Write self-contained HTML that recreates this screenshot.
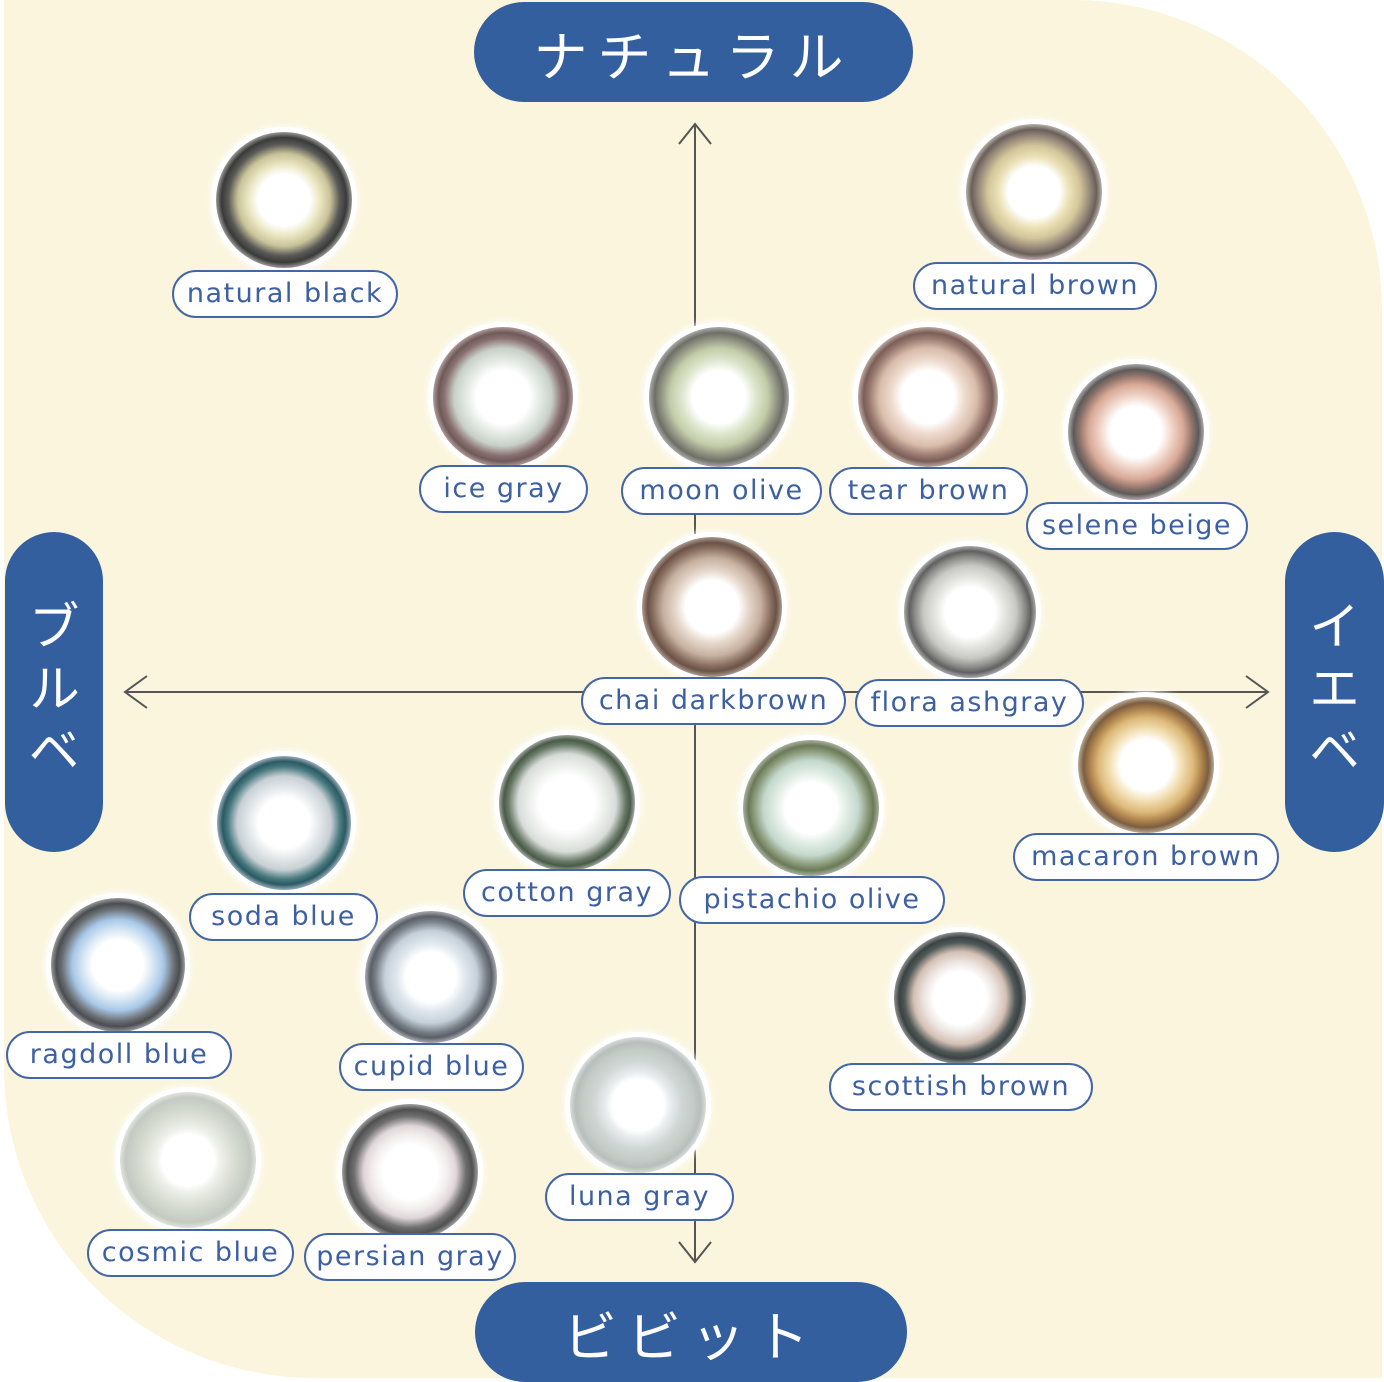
<!DOCTYPE html>
<html><head><meta charset="utf-8"><style>
body{margin:0;width:1384px;height:1382px;background:#fff;position:relative;overflow:hidden;font-family:"Liberation Sans","DejaVu Sans",sans-serif}
.bg{position:absolute;left:4px;top:0;width:1378px;height:1378px;background:#faf5dc;border-radius:0 310px 0 310px}
.pill{position:absolute;background:#335f9e;color:#fff;font-family:"Noto Sans CJK JP",sans-serif;display:flex;align-items:center;justify-content:center;border-radius:50px}
.h{font-size:54px;letter-spacing:10px}
.v{writing-mode:vertical-rl;font-size:52px;letter-spacing:10px}
.l{position:absolute;border-radius:50%;box-shadow:0 0 0 5px #fff,0 0 6px 7px rgba(255,255,255,.7)}
.t{position:absolute;box-sizing:border-box;border:2px solid #4466a6;background:#fff;border-radius:25px;color:#3d60a2;font-size:27px;letter-spacing:1.5px;text-align:center;line-height:44px;font-family:"DejaVu Sans","Liberation Sans",sans-serif}
</style></head><body>
<div class="bg"></div>
<svg width="1384" height="1382" style="position:absolute;left:0;top:0" fill="none" stroke="#555" stroke-width="2">
<line x1="695" y1="124" x2="695" y2="1262"/>
<polyline points="679,144 695,124 711,144"/>
<polyline points="679,1242 695,1262 711,1242"/>
<line x1="125" y1="692" x2="1268" y2="692"/>
<polyline points="147,676 125,692 147,708"/>
<polyline points="1246,676 1268,692 1246,708"/>
</svg>
<div class="pill h" style="left:474px;top:2px;width:439px;height:100px">ナチュラル</div>
<div class="pill h" style="left:475px;top:1282px;width:432px;height:100px">ビビット</div>
<div class="pill v" style="left:5px;top:532px;width:98px;height:320px">ブルベ</div>
<div class="pill v" style="left:1285px;top:532px;width:99px;height:320px">イエベ</div>

<div class="l" style="left:216px;top:132px;width:136px;height:136px;background:radial-gradient(circle closest-side,#fff 0 38%,#ece8c4 52%,#c9c39a 68%,#5a5a58 82%,#3a3a3a 92%,#9a9a98 100%)"></div>
<div class="t" style="left:172px;top:270px;width:226px;height:48px">natural black</div>

<div class="l" style="left:966px;top:124px;width:136px;height:136px;background:radial-gradient(circle closest-side,#fff 0 38%,#ece2b8 52%,#d2c59a 68%,#8f8276 84%,#6a5f5a 92%,#b8b0aa 100%)"></div>
<div class="t" style="left:913px;top:262px;width:244px;height:48px">natural brown</div>

<div class="l" style="left:433px;top:327px;width:140px;height:140px;background:radial-gradient(circle closest-side,#fff 0 38%,#e6ebe6 52%,#c8cfc8 70%,#8a7070 84%,#6e5a5a 92%,#b09a9a 100%)"></div>
<div class="t" style="left:419px;top:465px;width:169px;height:48px">ice gray</div>

<div class="l" style="left:649px;top:327px;width:140px;height:140px;background:radial-gradient(circle closest-side,#fff 0 38%,#dfe8d0 52%,#c3cca8 70%,#8d8f80 84%,#6d6f66 92%,#aaa 100%)"></div>
<div class="t" style="left:621px;top:467px;width:201px;height:48px">moon olive</div>

<div class="l" style="left:858px;top:327px;width:140px;height:140px;background:radial-gradient(circle closest-side,#fff 0 38%,#efdcd0 52%,#d8bcaa 70%,#9a7a70 84%,#7a5e58 92%,#bca8a0 100%)"></div>
<div class="t" style="left:829px;top:467px;width:199px;height:48px">tear brown</div>

<div class="l" style="left:1068px;top:364px;width:136px;height:136px;background:radial-gradient(circle closest-side,#fff 0 38%,#f1d8cc 52%,#d8a896 70%,#8a7068 84%,#5e5a5a 92%,#aaa 100%)"></div>
<div class="t" style="left:1026px;top:502px;width:222px;height:48px">selene beige</div>

<div class="l" style="left:642px;top:537px;width:140px;height:140px;background:radial-gradient(circle closest-side,#fff 0 38%,#e6d8cc 52%,#c6b0a0 70%,#8a7060 84%,#6a5246 92%,#ad9a90 100%)"></div>
<div class="t" style="left:581px;top:677px;width:265px;height:48px">chai darkbrown</div>

<div class="l" style="left:904px;top:546px;width:132px;height:132px;background:radial-gradient(circle closest-side,#fff 0 38%,#e6e6e2 52%,#c8c8c4 70%,#8a8a88 84%,#606060 92%,#aaa 100%)"></div>
<div class="t" style="left:855px;top:679px;width:229px;height:48px">flora ashgray</div>

<div class="l" style="left:1078px;top:697px;width:136px;height:136px;background:radial-gradient(circle closest-side,#fff 0 38%,#f4e2b8 52%,#dcb878 70%,#a87c48 84%,#7a5e44 92%,#b8a890 100%)"></div>
<div class="t" style="left:1013px;top:833px;width:266px;height:48px">macaron brown</div>

<div class="l" style="left:217px;top:756px;width:134px;height:134px;background:radial-gradient(circle closest-side,#fff 0 38%,#e6eaec 52%,#c8d0d4 70%,#4a7a80 84%,#2a5a62 92%,#9ab 100%)"></div>
<div class="t" style="left:189px;top:893px;width:189px;height:48px">soda blue</div>

<div class="l" style="left:499px;top:735px;width:136px;height:136px;background:radial-gradient(circle closest-side,#fff 0 40%,#eef0ee 55%,#d8dcd8 72%,#6a7a68 86%,#4a5a48 93%,#a0a8a0 100%)"></div>
<div class="t" style="left:463px;top:869px;width:208px;height:48px">cotton gray</div>

<div class="l" style="left:743px;top:740px;width:136px;height:136px;background:radial-gradient(circle closest-side,#fff 0 38%,#e2eee6 52%,#c4d8cc 70%,#8a9a7a 84%,#6a7a58 92%,#aab0a0 100%)"></div>
<div class="t" style="left:679px;top:876px;width:266px;height:48px">pistachio olive</div>

<div class="l" style="left:51px;top:898px;width:134px;height:134px;background:radial-gradient(circle 67px at 50% 50%,#fff 0 38%,#d8e8f4 52%,#a8c8e8 68%,#6a6e72 84%,#4a4e52 92%,#9a9a9a 100%)"></div>
<div class="t" style="left:6px;top:1031px;width:226px;height:48px">ragdoll blue</div>

<div class="l" style="left:365px;top:911px;width:132px;height:132px;background:radial-gradient(circle closest-side,#fff 0 38%,#e0e8ee 52%,#c4d0da 70%,#7a8088 84%,#5a6068 92%,#a8aab0 100%)"></div>
<div class="t" style="left:339px;top:1043px;width:185px;height:48px">cupid blue</div>

<div class="l" style="left:894px;top:932px;width:132px;height:132px;background:radial-gradient(circle closest-side,#fff 0 40%,#ece4e0 55%,#d4c0b4 70%,#505858 84%,#3a4242 92%,#909090 100%)"></div>
<div class="t" style="left:829px;top:1063px;width:264px;height:48px">scottish brown</div>

<div class="l" style="left:570px;top:1037px;width:136px;height:136px;background:radial-gradient(circle closest-side,#fff 0 38%,#e8ecee 48%,#d0d6d4 65%,#c4cac6 82%,#b8bebc 92%,#d8dcda 100%)"></div>
<div class="t" style="left:545px;top:1173px;width:189px;height:48px">luna gray</div>

<div class="l" style="left:120px;top:1092px;width:136px;height:136px;background:radial-gradient(circle closest-side,#fff 0 38%,#eef0ea 48%,#dce0d6 65%,#ccd2c8 82%,#c4cac2 92%,#e0e4dc 100%)"></div>
<div class="t" style="left:87px;top:1229px;width:207px;height:48px">cosmic blue</div>

<div class="l" style="left:342px;top:1104px;width:136px;height:136px;background:radial-gradient(circle closest-side,#fff 0 40%,#f2eeee 55%,#e0d6da 68%,#707070 82%,#505050 92%,#a0a0a0 100%)"></div>
<div class="t" style="left:304px;top:1233px;width:212px;height:48px">persian gray</div>
</body></html>
